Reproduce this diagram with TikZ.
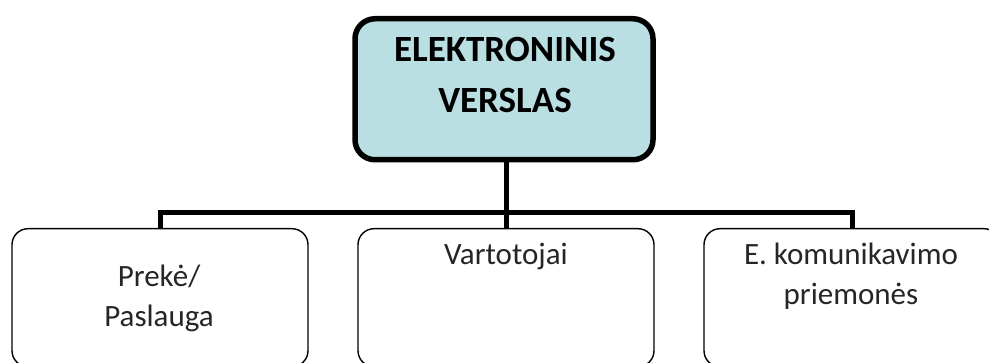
\documentclass[tikz,border=0pt]{standalone}
\usepackage{fontspec}
\setmainfont{Carlito}
\definecolor{topfill}{HTML}{B9DFE3}
\begin{document}
\begin{tikzpicture}[x=1pt,y=-1pt,
  topbox/.style={draw=black,line width=5.5pt,fill=topfill,rounded corners=20pt,
    minimum width=298pt,minimum height=141pt,inner sep=0pt,anchor=north},
  toptext/.style={font=\fontsize{37}{51}\selectfont\bfseries,align=center,anchor=base},
  childbox/.style={draw=black,line width=1.4pt,rounded corners=16pt,
    minimum width=296pt,minimum height=138pt,inner sep=0pt,anchor=north},
  childtext/.style={font=\fontsize{31}{40}\selectfont,align=center,text=black!85,anchor=base},
  conn/.style={line width=5pt}]
\useasboundingbox (0,0) rectangle (989,363);
\clip (0,0) rectangle (989,363);
\node[topbox] (top) at (504,16) {};
\node[toptext] (toptext) at (505,113) {ELEKTRONINIS\\VERSLAS};
\node[childbox] (b1) at (160,228) {};
\node[childbox] (b2) at (506,228) {};
\node[childbox] (b3) at (852,228) {};
\node[childtext] (t1) at (159,327) {Prekė/\\Paslauga};
\node[childtext] (t2) at (506,265) {Vartotojai};
\node[childtext] (t3) at (851,305) {E. komunikavimo\\priemonės};
\coordinate (hub) at (506,213);
\draw[conn] (top.south -| hub) -- (hub);
\draw[conn] (b1.north) |- (hub);
\draw[conn] (b3.north) |- (hub);
\draw[conn] (hub) -- (b2.north);
\end{tikzpicture}
\end{document}
